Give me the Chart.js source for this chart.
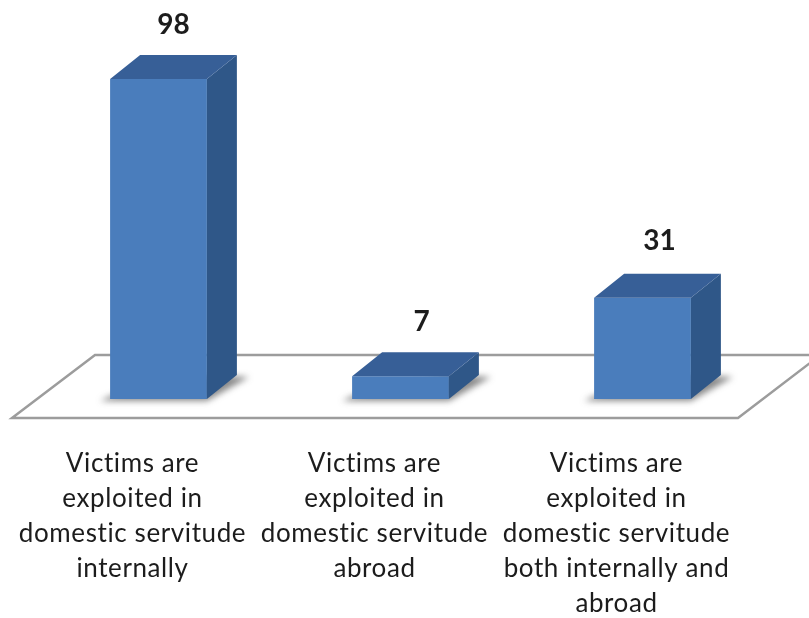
<!DOCTYPE html>
<html>
<head>
<meta charset="utf-8">
<script src="https://cdn.jsdelivr.net/npm/chart.js@4"></script>
<style>
  html, body { margin: 0; padding: 0; background: #fff; }
  #wrap { width: 809px; height: 618px; position: relative; }
  #victimsChart { filter: blur(0.5px); }
</style>
</head>
<body>
<div id="wrap"><canvas id="victimsChart"></canvas></div>
<script>
const categories = [
  ['Victims are', 'exploited in', 'domestic servitude', 'internally'],
  ['Victims are', 'exploited in', 'domestic servitude', 'abroad'],
  ['Victims are', 'exploited in', 'domestic servitude', 'both internally and', 'abroad']
];
const victims = [98, 7, 31];

const DEPTH_X = 30;
const DEPTH_Y = 24;
const LABEL_NUDGE_X = [0, 6, 2];
const LABEL_NUDGE_Y = [0, 0, -3];

function polygon(ctx, pts) {
  ctx.beginPath();
  ctx.moveTo(pts[0][0], pts[0][1]);
  for (let i = 1; i < pts.length; i++) ctx.lineTo(pts[i][0], pts[i][1]);
  ctx.closePath();
}

// flat floor under the bars + soft shadows on it
const floorPlugin = {
  id: 'floor',
  beforeDraw(chart) {
    chart.ctx.letterSpacing = '0.6px'; // also turns off the "ti" ligature in Lato
  },
  beforeDatasetsDraw(chart) {
    const ctx = chart.ctx;
    const area = chart.chartArea;
    const base = chart.scales.y.getPixelForValue(0);
    const backY = base - 44;
    const frontY = base + 19;
    ctx.save();
    polygon(ctx, [[area.left - 25.5, frontY], [area.right - 25.5, frontY], [area.right + 57, backY], [area.left + 57.5, backY]]);
    ctx.strokeStyle = '#9c9c9c';
    ctx.lineWidth = 2.5;
    ctx.stroke();

    chart.getDatasetMeta(0).data.forEach(bar => {
      const left = bar.x - bar.width / 2;
      const right = bar.x + bar.width / 2;
      ctx.save();
      ctx.filter = 'blur(3px)';
      ctx.fillStyle = 'rgba(60,60,60,0.6)';
      polygon(ctx, [[left - 10, base + 2], [right, base + 2], [right + DEPTH_X + 12, base - DEPTH_Y + 2], [right, base - DEPTH_Y], [left, base - 3]]);
      ctx.fill();
      ctx.restore();
    });
    ctx.restore();
  },
  afterDatasetsDraw(chart) {
    const ctx = chart.ctx;
    const base = chart.scales.y.getPixelForValue(0);
    ctx.save();
    chart.getDatasetMeta(0).data.forEach((bar, i) => {
      const left = bar.x - bar.width / 2;
      const right = bar.x + bar.width / 2;
      const top = bar.y;

      // right side face
      polygon(ctx, [[right, top], [right + DEPTH_X, top - DEPTH_Y], [right + DEPTH_X, base - DEPTH_Y], [right, base]]);
      ctx.fillStyle = '#2f5788';
      ctx.fill();

      // top face
      polygon(ctx, [[left, top], [left + DEPTH_X, top - DEPTH_Y], [right + DEPTH_X, top - DEPTH_Y], [right, top]]);
      ctx.fillStyle = '#375f97';
      ctx.fill();

      // value label
      ctx.fillStyle = '#1c1c1c';
      ctx.font = 'bold 28px Lato, "Open Sans", sans-serif';
      ctx.letterSpacing = '0px';
      ctx.textAlign = 'center';
      ctx.textBaseline = 'middle';
      ctx.fillText(victims[i], bar.x + DEPTH_X / 2 + LABEL_NUDGE_X[i], top - DEPTH_Y - 30 + LABEL_NUDGE_Y[i]);
    });
    ctx.restore();
  }
};

const chart = new Chart(document.getElementById('victimsChart').getContext('2d'), {
  type: 'bar',
  data: {
    labels: categories,
    datasets: [{
      data: victims,
      backgroundColor: '#4a7dbc',
      borderWidth: 0,
      barPercentage: 0.4,
      categoryPercentage: 1
    }]
  },
  options: {
    responsive: true,
    maintainAspectRatio: false,
    animation: { duration: 0 },
    layout: { padding: { left: 37.5, right: 45.5, top: 0, bottom: 0 } },
    scales: {
      x: {
        afterFit(scale) {
          scale.height = 219;
          scale.paddingLeft = 0;
          scale.paddingRight = 0;
        },
        border: { display: false },
        grid: { display: false, drawTicks: false },
        ticks: {
          color: '#1c1c1c',
          font: { family: 'Lato, "Open Sans", sans-serif', size: 26, lineHeight: 1.35 },
          padding: 47,
          maxRotation: 0,
          minRotation: 0,
          autoSkip: false,
          labelOffset: -26
        }
      },
      y: {
        display: false,
        min: 0,
        max: 122.2,
        grid: { display: false }
      }
    },
    plugins: {
      legend: { display: false },
      tooltip: { enabled: false }
    }
  },
  plugins: [floorPlugin]
});
</script>
</body>
</html>
